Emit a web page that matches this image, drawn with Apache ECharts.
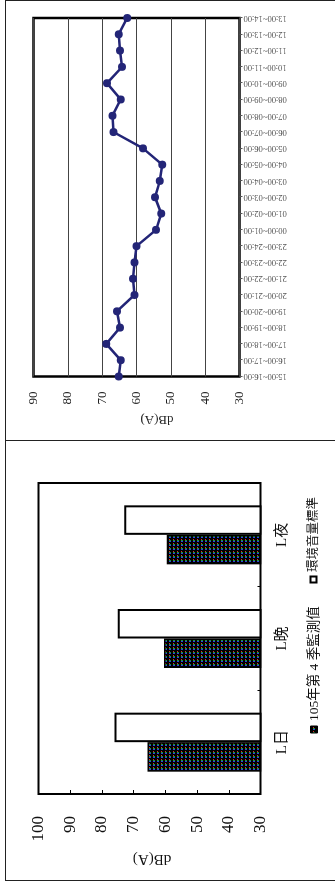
<!DOCTYPE html>
<html><head><meta charset="utf-8">
<script src="https://cdn.jsdelivr.net/npm/echarts@6/dist/echarts.min.js"></script>
<style>
html,body{margin:0;padding:0;background:#fff;overflow:hidden;width:335px;height:886px;}
#page{position:absolute;left:0;top:0;width:886px;height:335px;transform-origin:0 0;transform:translate(0px,886px) rotate(-90deg);}
</style></head><body><div id="page"></div>
<script>
// ---- data ----
const hours = ['15:00~16:00','16:00~17:00','17:00~18:00','18:00~19:00','19:00~20:00','20:00~21:00','21:00~22:00','22:00~23:00','23:00~24:00','00:00~01:00','01:00~02:00','02:00~03:00','03:00~04:00','04:00~05:00','05:00~06:00','06:00~07:00','07:00~08:00','08:00~09:00','09:00~10:00','10:00~11:00','11:00~12:00','12:00~13:00','13:00~14:00'];
const hourlyLevels = [65.2,64.6,68.8,64.8,65.7,60.6,61.0,60.6,60.0,54.3,52.8,54.6,53.2,52.5,58.1,66.7,67.0,64.6,68.6,64.2,64.8,65.2,62.7];
const periods = ['L日','L晚','L夜'];
const measuredName = '105年第 4 季監測值';
const standardName = '環境音量標準';
const measured = [65.6,60.4,59.6];
const standard = [76,75,73];
const unitLabel = 'dB(A)';

const serif = "'Liberation Serif','Noto Sans CJK TC',serif";

// dotted pattern for measured bars
const pc = document.createElement('canvas'); pc.width = 4; pc.height = 4;
const g = pc.getContext('2d');
g.fillStyle = '#000'; g.fillRect(0,0,4,4);
g.fillStyle = '#3040e0'; g.fillRect(0,1,1,2);
g.fillStyle = '#1a9a3a'; g.fillRect(1,1,1,2);
g.fillStyle = '#e02828'; g.fillRect(2,1,1,1);
const measuredFill = {image:pc, repeat:'repeat'};

const chart = echarts.init(document.getElementById('page'), null, {renderer:'canvas', width:886, height:335});

function ln(x1,y1,x2,y2){return {type:'line',silent:true,shape:{x1,y1,x2,y2},style:{stroke:'#222',lineWidth:1}};}

const option = {
  animation:false,
  backgroundColor:'#fff',
  grid:[
    {left:92, top:38.5, width:311, height:222, show:true, borderColor:'#000', borderWidth:2, containLabel:false},
    {left:509.5, top:33.5, width:358.5, height:206, show:true, borderColor:'#000', borderWidth:2.5, containLabel:false}
  ],
  xAxis:[
    {gridIndex:0, type:'category', data:periods,
     axisLine:{show:false},
     axisTick:{show:true, inside:true, length:3, lineStyle:{color:'#000', width:1}},
     axisLabel:{fontSize:15, margin:14, color:'#111', fontFamily:serif}},
    {gridIndex:1, type:'category', data:hours, boundaryGap:false,
     axisLine:{show:false},
     axisTick:{show:true, length:3, interval:0, lineStyle:{color:'#555', width:1}},
     axisLabel:{rotate:90, interval:0, fontSize:8.5, margin:4, color:'#444', fontFamily:serif}}
  ],
  yAxis:[
    {gridIndex:0, type:'value', min:30, max:100, interval:10,
     axisLine:{show:false},
     axisTick:{show:true, inside:true, length:4, lineStyle:{color:'#000', width:1}},
     splitLine:{show:false},
     axisLabel:{fontSize:17, margin:22, color:'#111', fontFamily:serif}},
    {gridIndex:1, type:'value', min:30, max:90, interval:10,
     axisLine:{show:false}, axisTick:{show:false},
     splitLine:{show:true, lineStyle:{color:'#444', width:1}},
     axisLabel:{fontSize:13, margin:15, color:'#222', fontFamily:serif}}
  ],
  series:[
    {name:measuredName, type:'bar', xAxisIndex:0, yAxisIndex:0, data:measured,
     barWidth:29.5, barGap:'0%',
     itemStyle:{color:measuredFill, borderColor:'#000', borderWidth:1.5}},
    {name:standardName, type:'bar', xAxisIndex:0, yAxisIndex:0, data:standard,
     barWidth:29.5, barGap:'0%',
     itemStyle:{color:'#fff', borderColor:'#000', borderWidth:2}},
    {name:'hourly', type:'line', xAxisIndex:1, yAxisIndex:1, data:hourlyLevels,
     symbol:'circle', symbolSize:8,
     lineStyle:{color:'#232577', width:2.5},
     itemStyle:{color:'#232577'}}
  ],
  graphic:[
    ln(5,5.5,886,5.5),
    ln(885.5,5,885.5,335),
    ln(5.5,5,5.5,335),
    ln(445.5,5,445.5,335),
    {type:'text', x:27, y:152, rotation:Math.PI/2,
     style:{text:unitLabel, fontSize:15, fontFamily:serif, fill:'#111', align:'center', verticalAlign:'middle', textAlign:'center', textVerticalAlign:'middle'}},
    {type:'text', x:467, y:157, rotation:Math.PI/2,
     style:{text:unitLabel, fontSize:13, fontFamily:serif, fill:'#222', align:'center', verticalAlign:'middle', textAlign:'center', textVerticalAlign:'middle'}},
    // legend
    {type:'rect', shape:{x:153, y:310.5, width:7, height:7}, style:{fill:measuredFill, stroke:'#000', lineWidth:1}},
    {type:'text', x:165, y:314, style:{text:measuredName, fontSize:13.5, fontFamily:serif, fill:'#111', align:'left', verticalAlign:'middle', textAlign:'left', textVerticalAlign:'middle'}},
    {type:'rect', shape:{x:303.5, y:310.5, width:6, height:6}, style:{fill:'#fff', stroke:'#000', lineWidth:2}},
    {type:'text', x:314, y:314, style:{text:standardName, fontSize:12.5, fontFamily:serif, fill:'#111', align:'left', verticalAlign:'middle', textAlign:'left', textVerticalAlign:'middle'}}
  ]
};
chart.setOption(option);
</script></body></html>
